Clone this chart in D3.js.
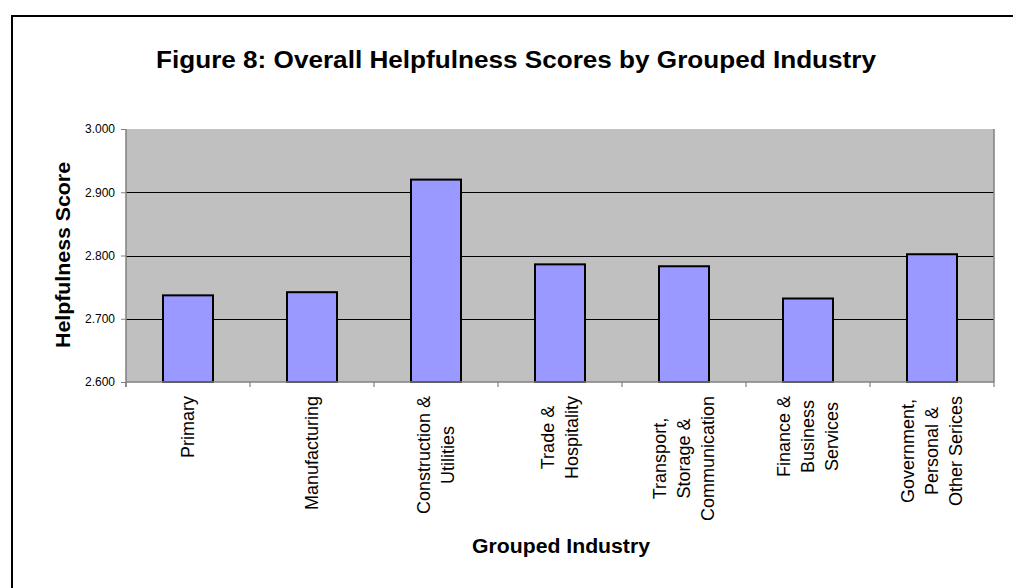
<!DOCTYPE html>
<html>
<head>
<meta charset="utf-8">
<script src="https://cdn.jsdelivr.net/npm/d3@7"></script>
<style>
  body { margin: 0; background: #fff; }
  text { font-family: "Liberation Sans", Arial, sans-serif; }
</style>
</head>
<body>
<div id="chart"></div>
<script>
// Data
const categories = [
  ["Primary"],
  ["Manufacturing"],
  ["Construction &", "Utilities"],
  ["Trade &", "Hospitality"],
  ["Transport,", "Storage &", "Communication"],
  ["Finance &", "Business", "Services"],
  ["Government,", "Personal &", "Other Serices"]
];
const scores = [2.737, 2.742, 2.920, 2.786, 2.783, 2.732, 2.802];
const yTicks = [2.6, 2.7, 2.8, 2.9, 3.0];

const W = 1013, H = 588;
const margin = {top: 129, right: 19, bottom: 206, left: 126};
const plotW = W - margin.left - margin.right;
const plotH = H - margin.top - margin.bottom;

const svg = d3.select("#chart").append("svg")
  .attr("width", W).attr("height", H);

// outer frame (runs off the right / bottom edge like the source)
svg.append("rect")
  .attr("x", 12).attr("y", 16)
  .attr("width", W + 20).attr("height", H + 20)
  .attr("fill", "none").attr("stroke", "#000").attr("stroke-width", 2);

svg.append("text")
  .attr("x", 516).attr("y", 68)
  .attr("text-anchor", "middle")
  .attr("font-size", 23).attr("font-weight", "bold")
  .attr("textLength", 720).attr("lengthAdjust", "spacingAndGlyphs")
  .text("Figure 8: Overall Helpfulness Scores by Grouped Industry");

const g = svg.append("g")
  .attr("transform", "translate(" + margin.left + "," + margin.top + ")");

const idx = categories.map((d, i) => i);
const xCat = d3.scaleBand().domain(idx).range([0, plotW]);
const y = d3.scaleLinear().domain([2.6, 3.0]).range([plotH, 0]);

g.append("rect")
  .attr("width", plotW).attr("height", plotH)
  .attr("fill", "#C0C0C0");

// gridlines
g.selectAll("line.grid")
  .data(yTicks.slice(1, -1))
  .enter().append("line")
  .attr("class", "grid")
  .attr("x1", 0).attr("x2", plotW)
  .attr("y1", d => Math.round(y(d)) + 0.5).attr("y2", d => Math.round(y(d)) + 0.5)
  .attr("stroke", "#000").attr("stroke-width", 1);

// right border of plot area
g.append("line")
  .attr("x1", plotW).attr("x2", plotW).attr("y1", 0).attr("y2", plotH)
  .attr("stroke", "#808080").attr("stroke-width", 1.5);

// bars
g.selectAll("rect.bar")
  .data(scores)
  .enter().append("rect")
  .attr("class", "bar")
  .attr("x", (d, i) => xCat(i) + xCat.bandwidth() / 2 - 25)
  .attr("width", 50)
  .attr("y", d => y(d))
  .attr("height", d => plotH - y(d))
  .attr("fill", "#9999FF")
  .attr("stroke", "#000").attr("stroke-width", 2);

// y axis
const yAxis = d3.axisLeft(y).tickValues(yTicks).tickFormat(d3.format(".3f"))
  .tickSize(5).tickPadding(6);
const ya = g.append("g").call(yAxis);
ya.select(".domain").attr("stroke", "#808080").attr("stroke-width", 1.5)
  .attr("d", "M0,0V" + (plotH + 5));
ya.selectAll(".tick line").attr("stroke", "#808080");
ya.selectAll(".tick text").attr("font-size", 12).attr("fill", "#000")
  .attr("font-family", "Liberation Sans, Arial, sans-serif");

// x axis: ticks at category boundaries
const xa = g.append("g").attr("transform", "translate(0," + plotH + ")");
xa.append("line").attr("x1", 0).attr("x2", plotW)
  .attr("stroke", "#808080").attr("stroke-width", 1.5);
xa.selectAll("line.tk")
  .data(d3.range(categories.length + 1))
  .enter().append("line")
  .attr("class", "tk")
  .attr("x1", i => i * xCat.step()).attr("x2", i => i * xCat.step())
  .attr("y1", 0).attr("y2", 5)
  .attr("stroke", "#808080").attr("stroke-width", 1.2);

// rotated multi-line category labels, top aligned
const lh = 24;
categories.forEach((lines, i) => {
  const cx = margin.left + xCat(i) + xCat.bandwidth() / 2;
  const t = svg.append("text")
    .attr("font-size", 18)
    .attr("text-anchor", "middle");
  lines.forEach((ln, k) => {
    t.append("tspan")
      .attr("x", 0)
      .attr("y", (k - (lines.length - 1) / 2) * lh)
      .attr("dy", "0.35em")
      .text(ln);
  });
  const maxLen = d3.max(t.selectAll("tspan").nodes(), n => n.getComputedTextLength());
  t.attr("transform", "translate(" + cx + "," + (396 + maxLen / 2) + ") rotate(-90)");
});

// axis titles
svg.append("text")
  .attr("x", 561).attr("y", 553)
  .attr("text-anchor", "middle")
  .attr("font-size", 20).attr("font-weight", "bold")
  .attr("textLength", 178).attr("lengthAdjust", "spacingAndGlyphs")
  .text("Grouped Industry");

svg.append("text")
  .attr("transform", "translate(70,255) rotate(-90)")
  .attr("text-anchor", "middle")
  .attr("font-size", 21).attr("font-weight", "bold")
  .attr("textLength", 186).attr("lengthAdjust", "spacingAndGlyphs")
  .text("Helpfulness Score");
</script>
</body>
</html>
